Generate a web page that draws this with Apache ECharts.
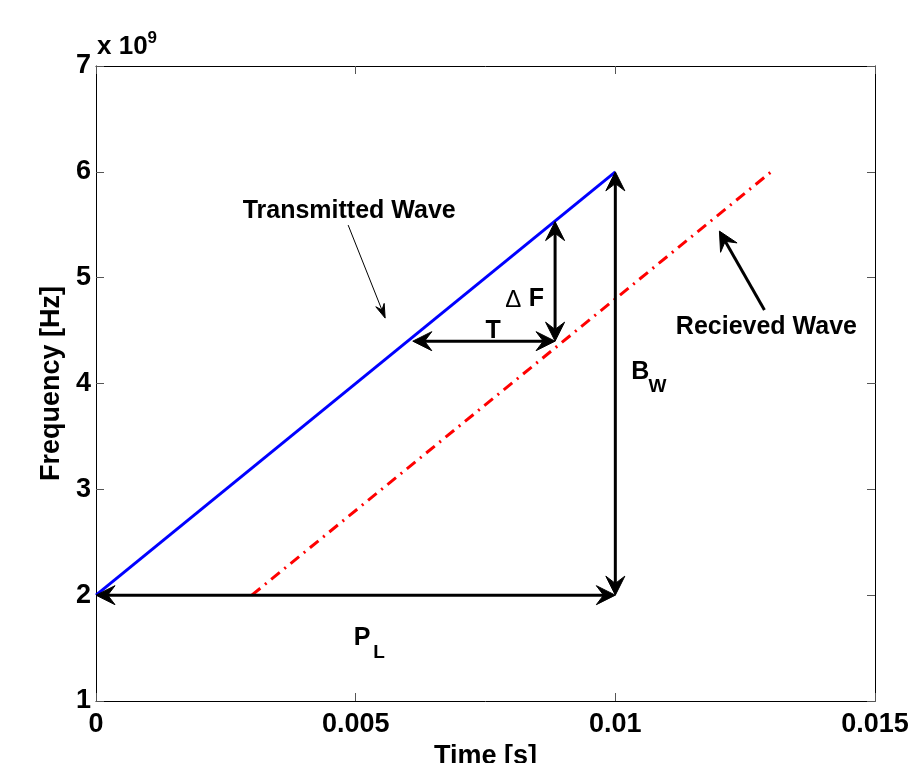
<!DOCTYPE html>
<html>
<head>
<meta charset="utf-8">
<script src="https://cdn.jsdelivr.net/npm/echarts@6/dist/echarts.min.js"></script>
<style>html,body{margin:0;padding:0;background:#fff;overflow:hidden;width:100%;height:100%}#c{width:909px;height:763px}</style>
</head>
<body>
<div id="c"></div>
<script>
// ---- data ----
const xTickLabels = ['0', '0.005', '0.01', '0.015'];
const yTickLabels = ['1', '2', '3', '4', '5', '6', '7'];
const transmittedTime = [0, 0.01];
const transmittedFreq = [2e9, 6e9];
const receivedTime = [0.003, 0.013];
const receivedFreq = [2e9, 6e9];
// double-headed arrows: [x1, y1, x2, y2]
const doubleArrows = [
  [0, 2e9, 0.01, 2e9],          // P_L
  [0.01, 2e9, 0.01, 6e9],       // B_W
  [0.00884, 4.40e9, 0.00884, 5.53e9], // Delta F
  [0.0061, 4.40e9, 0.00884, 4.40e9]   // T
];
// pointer arrows: [tailX, tailY, headX, headY]
const pointerArrows = [
  [0.004855, 5.497e9, 0.005568, 4.618e9], // Transmitted Wave (thin)
  [0.012871, 4.694e9, 0.012004, 5.440e9]  // Recieved Wave (thick)
];
// annotation anchors
const labelText = ['Transmitted Wave', 'Recieved Wave', 'T', 'P', 'B', 'ΔF'];
const labelSub = ['', '', '', 'L', 'W', ''];
const labelX = [0.004875, 0.012909, 0.007649, 0.005125, 0.010482, 0.008247];
const labelY = [5.630e9, 4.533e9, 4.495e9, 1.594e9, 4.108e9, 4.798e9];

const FONT = 'Liberation Sans, Arial, Helvetica, sans-serif';
const chart = echarts.init(document.getElementById('c'), null, {renderer: 'canvas'});

function arrowHead(tip, dir, L, W) {
  const nx = -dir[1], ny = dir[0];
  const bx = tip[0] - dir[0] * L, by = tip[1] - dir[1] * L;
  const mx = tip[0] - dir[0] * L * 0.62, my = tip[1] - dir[1] * L * 0.62;
  return [[tip[0], tip[1]], [bx + nx * W, by + ny * W], [mx, my], [bx - nx * W, by - ny * W]];
}

function arrowRender(doubleHead, width, L, W) {
  return function (params, api) {
    const p1 = api.coord([api.value(0), api.value(1)]);
    const p2 = api.coord([api.value(2), api.value(3)]);
    const dx = p2[0] - p1[0], dy = p2[1] - p1[1];
    const len = Math.sqrt(dx * dx + dy * dy);
    const d = [dx / len, dy / len];
    const s = doubleHead ? [p1[0] + d[0] * L * 0.6, p1[1] + d[1] * L * 0.6] : p1;
    const e = [p2[0] - d[0] * L * 0.6, p2[1] - d[1] * L * 0.6];
    const children = [{
      type: 'line', shape: {x1: s[0], y1: s[1], x2: e[0], y2: e[1]},
      style: {stroke: '#000', lineWidth: width}
    }, {
      type: 'polygon', shape: {points: arrowHead(p2, d, L, W)},
      style: {fill: '#000', stroke: '#000', lineWidth: 1, lineJoin: 'round'}
    }];
    if (doubleHead) {
      children.push({
        type: 'polygon', shape: {points: arrowHead(p1, [-d[0], -d[1]], L, W)},
        style: {fill: '#000', stroke: '#000', lineWidth: 1, lineJoin: 'round'}
      });
    }
    return {type: 'group', children: children};
  };
}

const option = {
  animation: false,
  backgroundColor: '#fff',
  grid: {left: 96, right: 34, top: 66, bottom: 62, containLabel: false, outerBoundsMode: 'none'},
  xAxis: [{
    type: 'value', min: 0, max: 0.015, interval: 0.005, position: 'bottom',
    name: 'Time [s]', nameLocation: 'middle', nameGap: 38,
    nameTextStyle: {fontFamily: FONT, fontWeight: 'bold', fontSize: 27, color: '#000'},
    axisLine: {show: true, onZero: false, lineStyle: {color: '#000', width: 1}},
    axisTick: {show: true, inside: true, length: 8, lineStyle: {color: '#555'}},
    axisLabel: {fontFamily: FONT, fontWeight: 'bold', fontSize: 27, color: '#000', margin: 10,
      formatter: (v, i) => xTickLabels[i]},
    splitLine: {show: false}
  }, {
    type: 'value', min: 0, max: 0.015, interval: 0.005, position: 'top',
    axisLine: {show: true, onZero: false, lineStyle: {color: '#000', width: 1}},
    axisTick: {show: true, inside: true, length: 8, lineStyle: {color: '#555'}},
    axisLabel: {show: false}, splitLine: {show: false}
  }],
  yAxis: [{
    type: 'value', min: 1e9, max: 7e9, interval: 1e9, position: 'left',
    name: 'Frequency [Hz]', nameLocation: 'middle', nameGap: 20, nameRotate: 90,
    nameTextStyle: {fontFamily: FONT, fontWeight: 'bold', fontSize: 27, color: '#000'},
    axisLine: {show: true, onZero: false, lineStyle: {color: '#000', width: 1}},
    axisTick: {show: true, inside: true, length: 8, lineStyle: {color: '#555'}},
    axisLabel: {fontFamily: FONT, fontWeight: 'bold', fontSize: 27, color: '#000', margin: 5,
      formatter: (v, i) => yTickLabels[i]},
    splitLine: {show: false}
  }, {
    type: 'value', min: 1e9, max: 7e9, interval: 1e9, position: 'right',
    axisLine: {show: true, onZero: false, lineStyle: {color: '#000', width: 1}},
    axisTick: {show: true, inside: true, length: 8, lineStyle: {color: '#555'}},
    axisLabel: {show: false}, splitLine: {show: false}
  }],
  graphic: [{
    type: 'text', left: 97, top: 30,
    style: {
      text: 'x 10{s|9}', fontFamily: FONT, fontWeight: 'bold', fontSize: 26, fill: '#000',
      rich: {s: {fontSize: 17, fontFamily: FONT, fontWeight: 'bold', verticalAlign: 'top', lineHeight: 34}}
    }
  }],
  series: [{
    type: 'line', name: 'Transmitted', xAxisIndex: 0, yAxisIndex: 0,
    data: transmittedTime.map((t, i) => [t, transmittedFreq[i]]),
    showSymbol: false, symbol: 'none',
    lineStyle: {color: '#0000ff', width: 3}, z: 3
  }, {
    type: 'line', name: 'Received', xAxisIndex: 0, yAxisIndex: 0,
    data: receivedTime.map((t, i) => [t, receivedFreq[i]]),
    showSymbol: false, symbol: 'none',
    lineStyle: {color: '#ff0000', width: 3, type: [11, 6, 2, 6]}, z: 3
  }, {
    type: 'custom', name: 'doubleArrows', xAxisIndex: 0, yAxisIndex: 0,
    data: doubleArrows, encode: {x: [0, 2], y: [1, 3]},
    renderItem: arrowRender(true, 3, 19, 9.5), z: 5, silent: true
  }, {
    type: 'custom', name: 'pointerThin', xAxisIndex: 0, yAxisIndex: 0,
    data: [pointerArrows[0]], encode: {x: [0, 2], y: [1, 3]},
    renderItem: arrowRender(false, 1, 14, 4.5), z: 5, silent: true
  }, {
    type: 'custom', name: 'pointerThick', xAxisIndex: 0, yAxisIndex: 0,
    data: [pointerArrows[1]], encode: {x: [0, 2], y: [1, 3]},
    renderItem: arrowRender(false, 3, 19, 9.5), z: 5, silent: true
  }, {
    type: 'custom', name: 'labels', xAxisIndex: 0, yAxisIndex: 0,
    data: labelX.map((x, i) => [x, labelY[i]]),
    renderItem: function (params, api) {
      const i = params.dataIndex;
      const p = api.coord([api.value(0), api.value(1)]);
      const txt = labelText[i];
      const children = [];
      if (txt === 'ΔF') {
        children.push({
          type: 'text', x: p[0] - 11, y: p[1] + 1,
          style: {text: 'Δ', fontFamily: FONT, fontWeight: 'normal', fontSize: 24,
            fill: '#000', align: 'center', verticalAlign: 'middle'}
        });
        children.push({
          type: 'text', x: p[0] + 12, y: p[1],
          style: {text: 'F', fontFamily: FONT, fontWeight: 'bold', fontSize: 25,
            fill: '#000', align: 'center', verticalAlign: 'middle'}
        });
      } else {
        children.push({
          type: 'text', x: p[0], y: p[1],
          style: {text: txt, fontFamily: FONT, fontWeight: 'bold', fontSize: 25, fill: '#000',
            align: 'center', verticalAlign: 'middle'}
        });
        if (labelSub[i]) {
          children.push({
            type: 'text', x: p[0] + 17, y: p[1] + 15,
            style: {text: labelSub[i], fontFamily: FONT, fontWeight: 'bold', fontSize: 19, fill: '#000',
              align: 'center', verticalAlign: 'middle'}
          });
        }
      }
      return {type: 'group', children: children};
    },
    z: 6, silent: true
  }]
};
chart.setOption(option);
</script>
</body>
</html>
